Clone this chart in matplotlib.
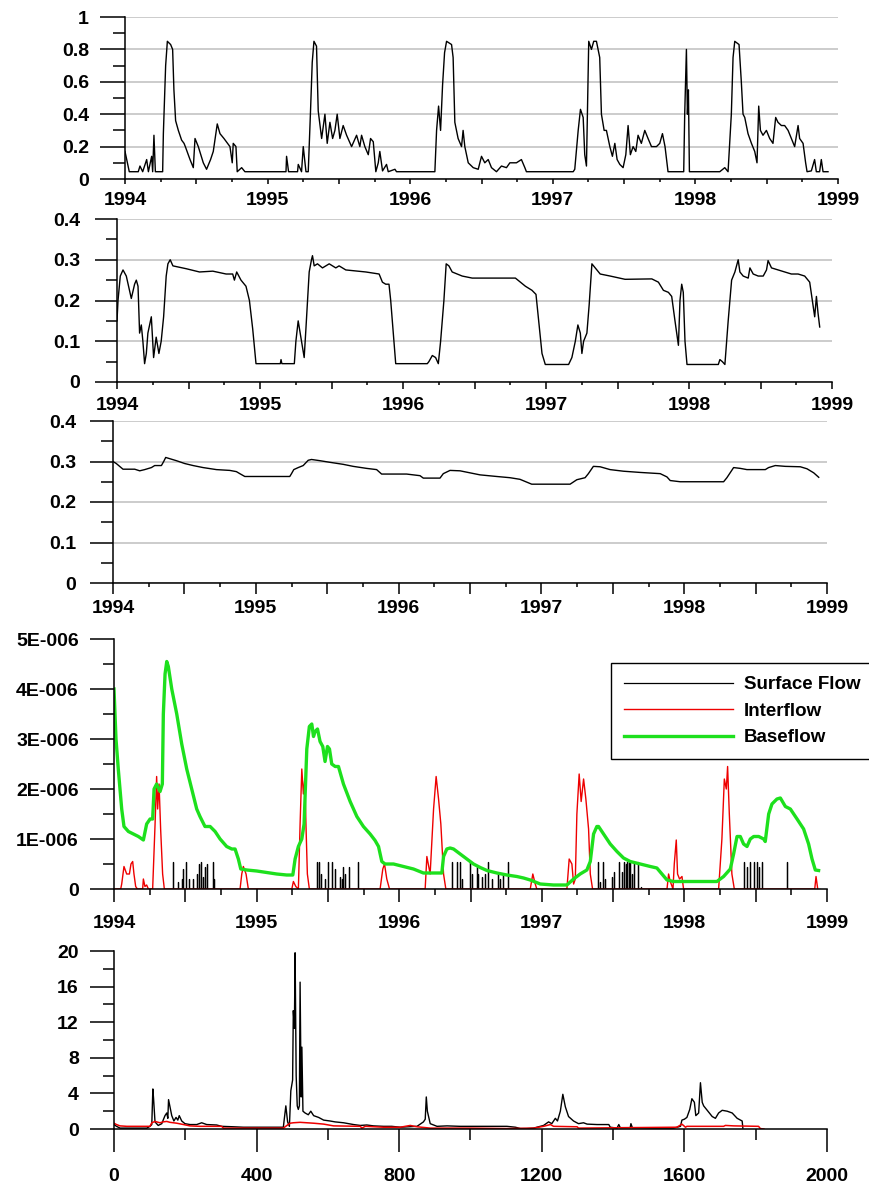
import numpy as np
import matplotlib
matplotlib.use("Agg")
import matplotlib.pyplot as plt
from matplotlib.ticker import MultipleLocator, FuncFormatter

plt.rcParams['font.family'] = ['Liberation Sans', 'DejaVu Sans']
plt.rcParams['font.weight'] = 'bold'
plt.rcParams['font.size'] = 14

# -------------------------------------------------------------------
# data (time as years since 1994-01-01)
# -------------------------------------------------------------------
START_YEAR = 1994

# panel 1: top layer soil moisture
sm1_t = [0.000, 0.030, 0.093, 0.105, 0.124, 0.152, 0.164, 0.187, 0.194, 0.203, 0.213, 0.264,
         0.269, 0.285, 0.297, 0.320, 0.334, 0.343, 0.355, 0.374, 0.397, 0.414, 0.423, 0.456,
         0.479, 0.491, 0.514, 0.549, 0.572, 0.600, 0.619, 0.647, 0.666, 0.694, 0.736, 0.752,
         0.759, 0.778, 0.787, 0.818, 0.841, 1.129, 1.133, 1.147, 1.210, 1.215, 1.238, 1.250,
         1.269, 1.285, 1.301, 1.313, 1.325, 1.343, 1.355, 1.379, 1.402, 1.418, 1.437, 1.456,
         1.472, 1.488, 1.507, 1.530, 1.554, 1.589, 1.624, 1.647, 1.659, 1.682, 1.706, 1.722,
         1.741, 1.759, 1.776, 1.787, 1.806, 1.834, 1.846, 1.893, 1.904, 2.173, 2.185, 2.199,
         2.213, 2.227, 2.241, 2.255, 2.290, 2.301, 2.313, 2.336, 2.360, 2.371, 2.383, 2.407,
         2.442, 2.477, 2.500, 2.523, 2.547, 2.570, 2.605, 2.640, 2.675, 2.699, 2.745, 2.780,
         2.804, 2.815, 3.143, 3.154, 3.178, 3.194, 3.213, 3.224, 3.236, 3.252, 3.271, 3.287,
         3.306, 3.329, 3.341, 3.360, 3.376, 3.400, 3.418, 3.435, 3.451, 3.470, 3.493, 3.512,
         3.528, 3.544, 3.563, 3.582, 3.598, 3.621, 3.645, 3.668, 3.692, 3.727, 3.750, 3.769,
         3.787, 3.808, 3.918, 3.925, 3.937, 3.944, 3.951, 3.958, 4.171, 4.206, 4.229, 4.252,
         4.264, 4.276, 4.306, 4.322, 4.334, 4.346, 4.369, 4.393, 4.416, 4.432, 4.444, 4.456,
         4.474, 4.498, 4.521, 4.544, 4.563, 4.579, 4.603, 4.626, 4.650, 4.673, 4.696, 4.720,
         4.731, 4.755, 4.773, 4.783, 4.813, 4.836, 4.848, 4.871, 4.883, 4.895, 4.930]
sm1_v = [0.17, 0.045, 0.045, 0.08, 0.045, 0.12, 0.045, 0.14, 0.045, 0.27, 0.045, 0.045,
         0.28, 0.70, 0.85, 0.83, 0.80, 0.55, 0.36, 0.30, 0.24, 0.22, 0.20, 0.12,
         0.07, 0.25, 0.20, 0.10, 0.06, 0.12, 0.17, 0.34, 0.28, 0.25, 0.20, 0.10,
         0.22, 0.20, 0.045, 0.07, 0.045, 0.045, 0.14, 0.045, 0.045, 0.09, 0.045, 0.20,
         0.045, 0.045, 0.42, 0.72, 0.85, 0.82, 0.42, 0.25, 0.40, 0.22, 0.35, 0.25,
         0.30, 0.40, 0.25, 0.33, 0.27, 0.20, 0.27, 0.20, 0.27, 0.20, 0.15, 0.25,
         0.23, 0.045, 0.10, 0.17, 0.05, 0.09, 0.045, 0.06, 0.045, 0.045, 0.30, 0.45,
         0.30, 0.58, 0.78, 0.85, 0.83, 0.75, 0.35, 0.25, 0.20, 0.30, 0.20, 0.10,
         0.07, 0.06, 0.14, 0.10, 0.12, 0.07, 0.045, 0.08, 0.07, 0.10, 0.10, 0.12,
         0.07, 0.045, 0.045, 0.06, 0.30, 0.43, 0.38, 0.15, 0.08, 0.85, 0.80, 0.85,
         0.85, 0.75, 0.40, 0.30, 0.30, 0.20, 0.14, 0.22, 0.12, 0.09, 0.07, 0.15,
         0.33, 0.15, 0.20, 0.17, 0.27, 0.22, 0.30, 0.25, 0.20, 0.20, 0.22, 0.28,
         0.20, 0.045, 0.045, 0.40, 0.80, 0.40, 0.55, 0.045, 0.045, 0.07, 0.045, 0.40,
         0.75, 0.85, 0.83, 0.60, 0.40, 0.38, 0.28, 0.22, 0.17, 0.10, 0.45, 0.30,
         0.27, 0.30, 0.25, 0.22, 0.38, 0.35, 0.33, 0.33, 0.30, 0.25, 0.20, 0.33,
         0.25, 0.22, 0.10, 0.045, 0.05, 0.12, 0.045, 0.045, 0.12, 0.045, 0.045]

# panel 2: middle layer soil moisture
sm2_t = [0.000, 0.007, 0.023, 0.042, 0.065, 0.100, 0.123, 0.135, 0.147, 0.158, 0.170, 0.181,
         0.193, 0.205, 0.216, 0.240, 0.256, 0.274, 0.293, 0.309, 0.326, 0.344, 0.356, 0.372,
         0.391, 0.484, 0.577, 0.670, 0.763, 0.809, 0.821, 0.837, 0.867, 0.902, 0.926, 0.949,
         0.972, 1.142, 1.147, 1.153, 1.240, 1.251, 1.267, 1.286, 1.309, 1.321, 1.344, 1.360,
         1.367, 1.379, 1.402, 1.437, 1.484, 1.530, 1.553, 1.600, 1.740, 1.833, 1.856, 1.879,
         1.902, 1.914, 1.937, 1.949, 2.170, 2.181, 2.205, 2.228, 2.247, 2.263, 2.286, 2.302,
         2.321, 2.344, 2.414, 2.484, 2.693, 2.786, 2.821, 2.856, 2.902, 2.930, 2.949, 2.972,
         2.995, 3.158, 3.181, 3.205, 3.223, 3.240, 3.251, 3.263, 3.286, 3.302, 3.321, 3.344,
         3.379, 3.449, 3.553, 3.740, 3.786, 3.821, 3.856, 3.879, 3.902, 3.926, 3.937, 3.949,
         3.960, 3.972, 3.986, 4.205, 4.216, 4.233, 4.251, 4.274, 4.298, 4.321, 4.344, 4.356,
         4.379, 4.414, 4.426, 4.449, 4.484, 4.519, 4.542, 4.553, 4.577, 4.623, 4.670, 4.716,
         4.763, 4.809, 4.844, 4.867, 4.879, 4.891, 4.902, 4.914]
sm2_v = [0.15, 0.20, 0.26, 0.275, 0.26, 0.205, 0.24, 0.25, 0.235, 0.12, 0.14, 0.10,
         0.045, 0.07, 0.12, 0.16, 0.06, 0.11, 0.07, 0.10, 0.16, 0.26, 0.29, 0.30,
         0.285, 0.278, 0.27, 0.272, 0.265, 0.265, 0.25, 0.27, 0.25, 0.235, 0.20, 0.13,
         0.045, 0.045, 0.055, 0.045, 0.045, 0.10, 0.15, 0.11, 0.06, 0.13, 0.27, 0.30,
         0.31, 0.285, 0.29, 0.28, 0.29, 0.28, 0.285, 0.275, 0.27, 0.265, 0.245, 0.24,
         0.24, 0.20, 0.10, 0.045, 0.045, 0.05, 0.065, 0.06, 0.045, 0.10, 0.20, 0.29,
         0.285, 0.27, 0.26, 0.255, 0.255, 0.255, 0.245, 0.235, 0.225, 0.215, 0.15, 0.07,
         0.043, 0.043, 0.06, 0.10, 0.14, 0.12, 0.07, 0.10, 0.12, 0.19, 0.29, 0.28,
         0.265, 0.26, 0.252, 0.253, 0.245, 0.225, 0.22, 0.21, 0.15, 0.09, 0.20, 0.24,
         0.22, 0.10, 0.043, 0.043, 0.055, 0.05, 0.043, 0.15, 0.25, 0.27, 0.30, 0.27,
         0.26, 0.255, 0.28, 0.265, 0.26, 0.26, 0.275, 0.298, 0.28, 0.275, 0.27, 0.265,
         0.265, 0.26, 0.245, 0.19, 0.16, 0.21, 0.17, 0.135]

# panel 3: bottom layer soil moisture
sm3_t = [0.000, 0.023, 0.070, 0.152, 0.187, 0.222, 0.269, 0.292, 0.339, 0.355, 0.369, 0.397,
         0.444, 0.502, 0.561, 0.631, 0.724, 0.818, 0.864, 0.888, 0.923, 1.238, 1.250, 1.266,
         1.297, 1.332, 1.367, 1.390, 1.449, 1.519, 1.612, 1.682, 1.776, 1.846, 1.881, 2.056,
         2.150, 2.173, 2.290, 2.313, 2.360, 2.430, 2.500, 2.570, 2.687, 2.780, 2.850, 2.932,
         3.201, 3.248, 3.306, 3.329, 3.364, 3.411, 3.481, 3.575, 3.692, 3.832, 3.879, 3.902,
         3.972, 4.276, 4.299, 4.346, 4.393, 4.439, 4.568, 4.591, 4.638, 4.708, 4.813, 4.860,
         4.907, 4.942]
sm3_v = [0.300, 0.295, 0.281, 0.281, 0.277, 0.280, 0.285, 0.290, 0.290, 0.300, 0.310, 0.307,
         0.302, 0.295, 0.290, 0.285, 0.280, 0.278, 0.275, 0.270, 0.263, 0.263, 0.270, 0.280,
         0.285, 0.290, 0.303, 0.305, 0.302, 0.298, 0.293, 0.288, 0.283, 0.280, 0.269, 0.269,
         0.265, 0.259, 0.259, 0.270, 0.278, 0.277, 0.272, 0.267, 0.263, 0.260, 0.256, 0.244,
         0.244, 0.255, 0.260, 0.270, 0.288, 0.287, 0.280, 0.276, 0.273, 0.270, 0.262, 0.253,
         0.250, 0.250, 0.260, 0.285, 0.283, 0.280, 0.280, 0.285, 0.290, 0.288, 0.287, 0.282,
         0.272, 0.261]

# panel 4: runoff components (values in 1E-006)
base_t = [0.000, 0.014, 0.030, 0.054, 0.070, 0.101, 0.136, 0.171, 0.206, 0.229, 0.253, 0.271,
          0.281, 0.299, 0.323, 0.339, 0.346, 0.358, 0.370, 0.381, 0.405, 0.440, 0.475, 0.510,
          0.545, 0.580, 0.603, 0.638, 0.674, 0.709, 0.744, 0.790, 0.826, 0.849, 0.872, 0.889,
          0.931, 1.001, 1.071, 1.141, 1.211, 1.254, 1.270, 1.293, 1.317, 1.333, 1.352, 1.370,
          1.387, 1.399, 1.410, 1.427, 1.445, 1.464, 1.480, 1.497, 1.511, 1.527, 1.551, 1.574,
          1.609, 1.656, 1.703, 1.749, 1.796, 1.831, 1.855, 1.878, 1.901, 1.960, 2.030, 2.100,
          2.170, 2.299, 2.311, 2.334, 2.357, 2.381, 2.428, 2.474, 2.521, 2.568, 2.615, 2.685,
          2.755, 2.825, 2.872, 2.919, 2.989, 3.082, 3.176, 3.223, 3.269, 3.316, 3.340, 3.363,
          3.386, 3.398, 3.433, 3.480, 3.527, 3.573, 3.620, 3.690, 3.761, 3.807, 3.842, 3.878,
          3.924, 4.228, 4.275, 4.322, 4.345, 4.369, 4.392, 4.415, 4.439, 4.462, 4.486, 4.521,
          4.556, 4.567, 4.591, 4.614, 4.649, 4.673, 4.708, 4.743, 4.790, 4.836, 4.871, 4.895,
          4.918, 4.941]
base_v = [4.00, 3.00, 2.40, 1.60, 1.25, 1.15, 1.10, 1.05, 0.98, 1.30, 1.40, 1.40,
          2.00, 2.10, 1.95, 2.10, 3.50, 4.30, 4.55, 4.45, 4.00, 3.50, 2.90, 2.40,
          2.00, 1.60, 1.45, 1.25, 1.25, 1.15, 1.00, 0.85, 0.80, 0.80, 0.60, 0.40,
          0.38, 0.36, 0.33, 0.30, 0.28, 0.28, 0.60, 0.85, 1.00, 1.30, 2.80, 3.25,
          3.30, 3.05, 3.15, 3.20, 2.95, 2.85, 2.55, 2.85, 2.80, 2.50, 2.45, 2.45,
          2.10, 1.75, 1.45, 1.25, 1.10, 0.97, 0.85, 0.55, 0.50, 0.50, 0.45, 0.40,
          0.32, 0.32, 0.65, 0.80, 0.82, 0.80, 0.70, 0.60, 0.50, 0.43, 0.37, 0.32,
          0.28, 0.25, 0.22, 0.18, 0.10, 0.08, 0.08, 0.20, 0.30, 0.38, 0.55, 1.10,
          1.25, 1.25, 1.10, 0.90, 0.75, 0.62, 0.55, 0.50, 0.45, 0.42, 0.30, 0.18,
          0.15, 0.15, 0.25, 0.40, 0.70, 1.05, 1.05, 0.90, 0.85, 1.00, 1.05, 1.05,
          1.00, 0.95, 1.50, 1.70, 1.80, 1.82, 1.65, 1.60, 1.40, 1.20, 0.90, 0.60,
          0.38, 0.37]

inter_t = [0.000, 0.047, 0.054, 0.070, 0.089, 0.108, 0.119, 0.131, 0.140, 0.152, 0.164, 0.201,
           0.206, 0.217, 0.229, 0.241, 0.271, 0.288, 0.299, 0.306, 0.316, 0.327, 0.341, 0.353,
           0.884, 0.896, 0.907, 0.926, 0.942, 1.247, 1.258, 1.275, 1.293, 1.305, 1.317, 1.328,
           1.338, 1.347, 1.356, 1.370, 1.866, 1.885, 1.897, 1.913, 1.932, 2.182, 2.194, 2.217,
           2.241, 2.259, 2.276, 2.292, 2.311, 2.327, 2.919, 2.937, 2.954, 2.965, 3.176, 3.192,
           3.211, 3.223, 3.235, 3.246, 3.262, 3.276, 3.293, 3.309, 3.328, 3.340, 3.356, 3.878,
           3.889, 3.901, 3.920, 3.929, 3.943, 3.952, 3.966, 3.983, 3.994, 4.240, 4.263, 4.280,
           4.294, 4.303, 4.315, 4.333, 4.350, 4.914, 4.923, 4.935]
inter_v = [0.00, 0.00, 0.10, 0.45, 0.30, 0.30, 0.50, 0.55, 0.30, 0.05, 0.00, 0.00,
           0.20, 0.05, 0.08, 0.00, 0.00, 1.30, 2.25, 1.60, 2.10, 1.20, 0.30, 0.00,
           0.00, 0.30, 0.45, 0.30, 0.00, 0.00, 0.15, 0.05, 0.00, 1.30, 2.40, 1.90,
           2.20, 1.20, 0.30, 0.00, 0.00, 0.40, 0.50, 0.20, 0.00, 0.00, 0.65, 0.30,
           1.60, 2.25, 1.80, 1.30, 0.30, 0.00, 0.00, 0.30, 0.10, 0.00, 0.00, 0.60,
           0.50, 0.10, 0.20, 1.50, 2.30, 1.75, 2.20, 1.80, 1.20, 0.30, 0.00, 0.00,
           0.30, 0.15, 0.00, 0.50, 0.98, 0.30, 0.20, 0.25, 0.00, 0.00, 1.00, 2.20,
           2.00, 2.45, 1.50, 0.30, 0.00, 0.00, 0.25, 0.00]

surf_t = [0.416, 0.451, 0.475, 0.486, 0.505, 0.529, 0.552, 0.580, 0.594, 0.608, 0.622, 0.638,
          0.650, 0.692, 0.704, 1.427, 1.441, 1.452, 1.480, 1.504, 1.527, 1.551, 1.586, 1.597,
          1.609, 1.621, 1.651, 1.714, 2.369, 2.404, 2.428, 2.439, 2.493, 2.509, 2.544, 2.556,
          2.579, 2.603, 2.626, 2.650, 2.696, 2.708, 2.727, 2.766, 3.393, 3.410, 3.428, 3.445,
          3.492, 3.503, 3.538, 3.562, 3.578, 3.590, 3.599, 3.609, 3.620, 3.632, 3.644, 3.672,
          3.695, 4.420, 4.439, 4.462, 4.486, 4.509, 4.521, 4.544, 4.719]
surf_v = [0.55, 0.15, 0.20, 0.40, 0.55, 0.20, 0.20, 0.30, 0.50, 0.55, 0.25, 0.45,
          0.50, 0.55, 0.20, 0.55, 0.55, 0.30, 0.20, 0.55, 0.55, 0.40, 0.25, 0.20,
          0.45, 0.30, 0.45, 0.55, 0.55, 0.55, 0.55, 0.20, 0.55, 0.30, 0.45, 0.30,
          0.25, 0.30, 0.55, 0.20, 0.30, 0.20, 0.30, 0.55, 0.55, 0.15, 0.55, 0.20,
          0.25, 0.35, 0.55, 0.35, 0.55, 0.50, 0.55, 0.55, 0.55, 0.30, 0.55, 0.55,
          0.05, 0.55, 0.45, 0.55, 0.55, 0.55, 0.45, 0.55, 0.55]

# panel 5: flow vs day number
flow_day = [0, 7, 17, 92, 101, 106, 109, 111, 115, 124, 134, 143, 148, 151, 153, 157, 162,
            168, 174, 179, 183, 190, 199, 213, 232, 246, 260, 288, 302, 335, 363, 429, 475,
            482, 487, 492, 496, 501, 503, 506, 508, 511, 514, 517, 520, 522, 525, 527, 530,
            536, 545, 552, 560, 574, 588, 606, 620, 644, 672, 691, 709, 728, 756, 779, 803,
            850, 868, 873, 876, 879, 887, 906, 934, 971, 1046, 1102, 1126, 1140, 1158, 1177,
            1205, 1219, 1228, 1238, 1244, 1252, 1259, 1266, 1275, 1289, 1303, 1317, 1327,
            1355, 1388, 1392, 1411, 1416, 1420, 1448, 1450, 1454, 1514, 1570, 1589, 1593,
            1600, 1607, 1615, 1621, 1628, 1632, 1640, 1645, 1650, 1654, 1664, 1678, 1687,
            1696, 1706, 1720, 1734, 1748, 1762, 1764]
flow_val = [0.5, 0.3, 0.1, 0.1, 0.3, 0.5, 4.5, 3.4, 0.8, 0.4, 0.6, 1.5, 1.8, 1.2, 3.3, 2.5, 1.5,
            0.9, 1.3, 1.0, 1.5, 0.9, 0.6, 0.5, 0.5, 0.7, 0.5, 0.45, 0.3, 0.25, 0.2, 0.2, 0.2,
            2.6, 0.8, 0.3, 4.3, 5.5, 13.3, 11.3, 19.8, 6.0, 2.6, 2.2, 2.6, 16.5, 3.6, 9.2, 2.0,
            1.8, 1.6, 2.0, 1.5, 1.3, 1.0, 0.9, 0.8, 0.7, 0.5, 0.4, 0.45, 0.35, 0.3, 0.3, 0.2,
            0.3, 0.8, 1.1, 3.6, 2.0, 0.6, 0.3, 0.35, 0.3, 0.3, 0.3, 0.2, 0.05, 0.05, 0.1,
            0.4, 0.8, 0.6, 1.2, 0.9, 2.0, 3.9, 2.5, 1.4, 0.9, 0.6, 0.7, 0.55,
            0.5, 0.5, 0.2, 0.1, 0.5, 0.15, 0.15, 0.6, 0.15, 0.1, 0.1, 0.3, 1.0,
            1.1, 1.3, 2.2, 3.4, 3.0, 1.5, 1.8, 5.2, 3.0, 2.6, 2.1, 1.4, 1.2,
            1.8, 2.1, 2.0, 1.8, 1.2, 0.9, 0.1]

slow_day = [0, 7, 17, 36, 101, 106, 115, 129, 138, 148, 157, 176, 195, 213, 241, 302, 307, 475,
            485, 494, 503, 522, 560, 588, 616, 691, 695, 705, 756, 803, 831, 850, 887, 999,
            1102, 1177, 1205, 1224, 1233, 1299, 1303, 1579, 1593, 1603, 1607, 1710, 1715,
            1738, 1808, 1813, 1823]
slow_val = [0.65, 0.5, 0.35, 0.3, 0.3, 0.7, 0.85, 0.7, 0.8, 0.85, 0.75, 0.65, 0.5, 0.35, 0.3,
            0.3, 0.1, 0.1, 0.4, 0.65, 0.7, 0.75, 0.65, 0.55, 0.35, 0.3, 0.1, 0.3, 0.2, 0.2,
            0.4, 0.25, 0.1, 0.1, 0.05, 0.1, 0.3, 0.5, 0.3, 0.25, 0.1, 0.2, 0.55, 0.2, 0.3,
            0.3, 0.4, 0.35, 0.3, 0.05, 0.0]

W, H = 870, 1188
FS = 14


def px_axes(fig, left, right, top, bottom):
    """add axes from pixel edges of the reference picture"""
    return fig.add_axes([left / W, 1 - bottom / H, (right - left) / W, (bottom - top) / H])


def style(ax, ymaj, ymin, xmaj, xmin, ylen, xlen, xpad, ypad, grid=True):
    for s in ("top", "right"):
        ax.spines[s].set_visible(False)
    for s in ("left", "bottom"):
        ax.spines[s].set_linewidth(1.1)
    ax.yaxis.set_major_locator(MultipleLocator(ymaj))
    ax.yaxis.set_minor_locator(MultipleLocator(ymin))
    ax.xaxis.set_major_locator(MultipleLocator(xmaj))
    ax.xaxis.set_minor_locator(MultipleLocator(xmin))
    ax.tick_params(axis="y", which="major", direction="out", length=ylen[0], width=1.1, pad=ypad, labelsize=FS)
    ax.tick_params(axis="y", which="minor", direction="out", length=ylen[1], width=1.1)
    ax.tick_params(axis="x", which="major", direction="out", length=xlen[0], width=1.1, pad=xpad, labelsize=FS)
    ax.tick_params(axis="x", which="minor", direction="out", length=xlen[1], width=1.1)
    if grid:
        ax.yaxis.grid(True, which="major", color="#c4c4c4", linewidth=1.2)
        ax.set_axisbelow(True)


year_fmt = FuncFormatter(lambda v, p: f"{v:.0f}" if abs(v - round(v)) < 1e-6 else "")
plain_fmt = FuncFormatter(lambda v, p: f"{v:g}")

fig = plt.figure(figsize=(W / 100, H / 100), dpi=100)

# panel 1
ax1 = px_axes(fig, 125, 838, 17, 179)
ax1.plot(START_YEAR + np.array(sm1_t), sm1_v, color="black", lw=1.0)
ax1.set_xlim(1994, 1999)
ax1.set_ylim(0, 1)
style(ax1, 0.2, 0.1, 0.5, 0.25, (18, 8.6), (3.6, 2.2), 5.8, 8)
ax1.xaxis.set_major_formatter(year_fmt)
ax1.yaxis.set_major_formatter(plain_fmt)

# panel 2
ax2 = px_axes(fig, 117, 832, 219, 382)
ax2.plot(START_YEAR + np.array(sm2_t), sm2_v, color="black", lw=1.0)
ax2.set_xlim(1994, 1999)
ax2.set_ylim(0, 0.4)
style(ax2, 0.1, 0.05, 0.5, 0.25, (15.8, 8), (5, 2.2), 5.8, 10.5)
ax2.xaxis.set_major_formatter(year_fmt)
ax2.yaxis.set_major_formatter(plain_fmt)

# panel 3
ax3 = px_axes(fig, 113, 827, 421, 583)
ax3.plot(START_YEAR + np.array(sm3_t), sm3_v, color="black", lw=1.0)
ax3.set_xlim(1994, 1999)
ax3.set_ylim(0, 0.4)
style(ax3, 0.1, 0.05, 0.5, 0.25, (16.5, 8.6), (8, 2.9), 4.3, 10)
ax3.xaxis.set_major_formatter(year_fmt)
ax3.yaxis.set_major_formatter(plain_fmt)

# panel 4: surface flow drawn as spikes from zero
sx, sy = [0.0], [0.0]
for t, v in zip(surf_t, surf_v):
    sx += [t, t, t]
    sy += [0.0, v, 0.0]
sx.append(4.95)
sy.append(0.0)
ax4 = px_axes(fig, 114, 827, 639, 889)
ax4.plot(START_YEAR + np.array(sx), np.array(sy) * 1e-6, color="black", lw=0.9, label="Surface Flow")
ax4.plot(START_YEAR + np.array(inter_t), np.array(inter_v) * 1e-6, color="#ee0000", lw=1.0, label="Interflow")
ax4.plot(START_YEAR + np.array(base_t), np.array(base_v) * 1e-6, color="#1de01d", lw=2.4, label="Baseflow")
ax4.set_xlim(1994, 1999)
ax4.set_ylim(0, 5e-6)
style(ax4, 1e-6, 0.5e-6, 0.5, 0.25, (17.3, 8), (9.4, 4.3), 9.4, 8, grid=False)
ax4.xaxis.set_major_formatter(year_fmt)
ax4.yaxis.set_major_formatter(FuncFormatter(lambda v, p: "0" if v < 1e-9 else f"{v * 1e6:.0f}E-006"))
leg = ax4.legend(loc="upper left", bbox_to_anchor=(611 / W, 1 - 663 / H), bbox_transform=fig.transFigure,
                 borderaxespad=0, frameon=True, fancybox=False, framealpha=1, edgecolor="black",
                 handlelength=5.8, handletextpad=0.6, borderpad=0.7, labelspacing=0.5,
                 prop={"size": 13.5, "weight": "bold"})
leg.get_frame().set_linewidth(1.0)

# panel 5
ax5 = px_axes(fig, 114, 827, 951, 1129)
ax5.plot(flow_day, flow_val, color="black", lw=1.0)
ax5.plot(slow_day, slow_val, color="#ee0000", lw=1.1)
ax5.set_xlim(0, 2000)
ax5.set_ylim(0, 20)
style(ax5, 4, 2, 400, 200, (17.3, 8), (16.6, 8), 11.5, 8, grid=False)

fig.savefig("out.png", dpi=100)
